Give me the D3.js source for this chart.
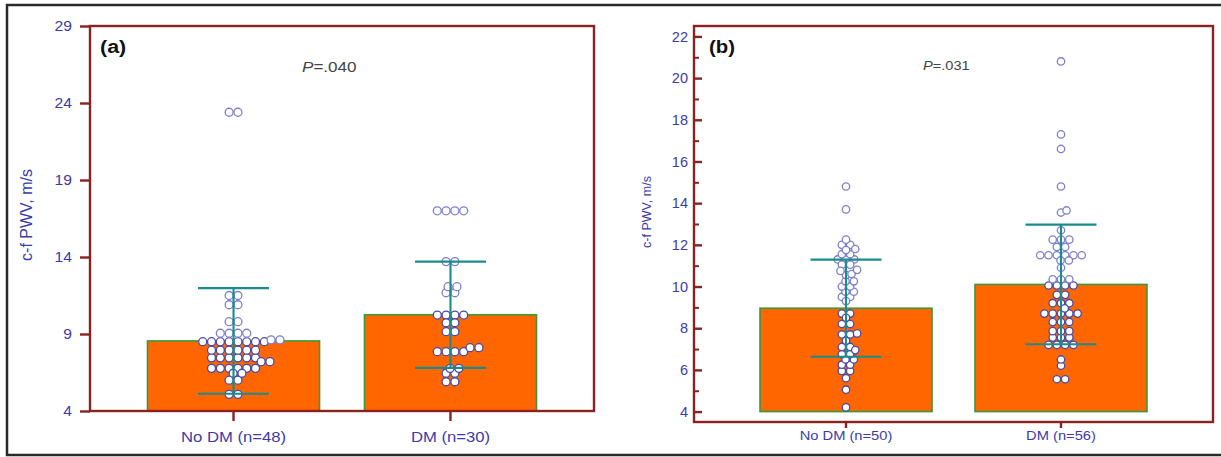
<!DOCTYPE html>
<html><head><meta charset="utf-8">
<script src="https://cdn.jsdelivr.net/npm/d3@7"></script>
<style>body{margin:0;background:#fff}svg{display:block;font-family:"Liberation Sans",Arial,sans-serif}</style>
</head><body><svg id="c" width="1221" height="457"></svg>
<script>
// ---------- Panel (a) ----------
const categoriesA = ["No DM (n=48)", "DM (n=30)"];
const meansA = [8.55, 10.25];
const sdsA = [3.43, 3.45];
const noDmA = [23.4, 23.4, 11.5, 11.5, 10.9, 10.9, 9.8, 9.8, 9.05, 9.05, 9.05, 9.05,
  8.62, 8.62, 8.5, 8.5, 8.5, 8.5, 8.5, 8.5, 8.5, 8.5,
  7.95, 7.95, 7.95, 7.95, 7.95, 7.95, 7.45, 7.45, 7.45, 7.45, 7.45, 7.45,
  7.2, 7.2, 6.77, 6.77, 6.77, 6.77, 6.77, 6.77, 6.45, 6.45, 6.0, 6.0, 5.08, 5.08];
const dmA = [17.0, 17.0, 17.0, 17.0, 13.7, 13.7, 12.07, 12.07, 11.68, 11.68,
  10.23, 10.23, 10.23, 10.23, 9.73, 9.73, 9.15, 9.15, 8.11, 8.11,
  7.85, 7.85, 7.85, 7.85, 6.77, 6.77, 6.45, 6.45, 5.9, 5.9];
const yTicksA = [4, 9, 14, 19, 24, 29];
const panelLabelA = "(a)";
const pValueA = "=.040";

// ---------- Panel (b) ----------
const categoriesB = ["No DM (n=50)", "DM (n=56)"];
const meansB = [8.96, 10.1];
const sdsB = [2.33, 2.87];
const noDmB = [14.8, 13.7, 12.25, 12.0, 12.0, 11.8, 11.75, 11.55, 11.55,
  11.3, 11.3, 11.3, 11.05, 11.05, 10.8, 10.75, 10.6, 10.55,
  10.25, 10.25, 10.0, 10.0, 9.75, 9.75, 9.5, 9.5, 9.3,
  8.7, 8.7, 8.5, 8.2, 8.2, 7.75, 7.7, 7.7, 7.4, 7.1, 7.1, 6.95,
  6.75, 6.75, 6.5, 6.5, 6.25, 6.25, 5.95, 5.95, 5.6, 5.05, 4.2];
const dmB = [20.8, 17.3, 16.6, 14.8, 13.55, 13.65, 12.7, 12.25, 12.25, 12.25,
  11.9, 11.9, 11.5, 11.5, 11.5, 11.5, 11.5, 11.5, 11.25, 11.25, 10.9,
  10.35, 10.35, 10.35, 10.05, 10.05, 10.05, 10.05, 9.6, 9.6, 9.2, 9.2, 9.2, 8.95,
  8.7, 8.7, 8.7, 8.7, 8.7, 8.3, 8.3, 8.3, 7.86, 7.86, 7.86, 7.55, 7.55, 7.55,
  7.2, 7.2, 7.2, 7.2, 6.5, 6.2, 5.55, 5.55];
const yTicksB = [4, 6, 8, 10, 12, 14, 16, 18, 20, 22];
const yMinorB = [5, 7, 9, 11, 13, 15, 17, 19, 21];
const panelLabelB = "(b)";
const pValueB = "=.031";

const yTitle = "c-f PWV, m/s";

const AXIS = "#8a2222", BLUE = "#3c3ca8", ORANGE = "#ff6600", GREEN = "#3a9a3a", TEAL = "#1a8c8c";

const svg = d3.select("#c");
svg.append("rect").attr("x", 7).attr("y", 5).attr("width", 1220).attr("height", 450)
  .attr("fill", "none").attr("stroke", "#2a2a2a").attr("stroke-width", 2.5);

// horizontal stretch of text (the source picture is widened)
function stretch(sel, f) {
  sel.each(function () {
    const w = this.getComputedTextLength();
    d3.select(this).attr("textLength", w * f).attr("lengthAdjust", "spacingAndGlyphs");
  });
}

function swarm(values, y, r, spacing, minDist) {
  const rows = d3.groups(values, v => v).map(([v, a]) => ({ v, n: a.length }));
  rows.sort((a, b) => b.n - a.n || a.v - b.v);
  const placed = [];
  for (const row of rows) {
    const cy = y(row.v);
    let best = null;
    for (let k = 0; k < 200 && !best; k++) {
      const cands = k === 0 ? [0] : [k * r / 2, -k * r / 2];
      for (const c of cands) {
        const xs = d3.range(row.n).map(i => c + (i - (row.n - 1) / 2) * spacing);
        if (xs.every(xx => placed.every(p => Math.hypot(p.x - xx, p.y - cy) >= minDist))) { best = xs; break; }
      }
    }
    best.forEach(xx => placed.push({ x: xx, y: cy, v: row.v }));
  }
  return placed;
}

function drawPanel(cfg) {
  const g = svg.append("g");
  const x = d3.scaleBand().domain(cfg.categories).range([cfg.x0, cfg.x1])
    .paddingInner(cfg.pi).paddingOuter(cfg.po);
  const y = d3.scaleLinear().domain(cfg.domain).range([cfg.y1, cfg.y0]);
  const cx = d => x(d) + x.bandwidth() / 2;

  // bars
  g.selectAll("rect.bar").data(cfg.categories).join("rect").attr("class", "bar")
    .attr("x", d => x(d)).attr("width", x.bandwidth())
    .attr("y", (d, i) => y(cfg.means[i]))
    .attr("height", (d, i) => y(cfg.barBase) - y(cfg.means[i]))
    .attr("fill", ORANGE).attr("stroke", GREEN).attr("stroke-width", 1.6);

  // dots
  cfg.categories.forEach((cat, i) => {
    const pts = swarm(cfg.points[i], y, cfg.r, cfg.spacing, cfg.minDist);
    g.append("g").selectAll("circle").data(pts).join("circle")
      .attr("cx", d => cx(cat) + d.x).attr("cy", d => d.y).attr("r", cfg.r)
      .attr("fill", "#fff")
      .attr("stroke", d => d.v > cfg.means[i] ? "#7f7fcc" : "#4a4aa2")
      .attr("stroke-width", 1.3);
  });

  // error bars
  const eb = g.append("g").attr("stroke", TEAL).attr("stroke-width", 2.1);
  cfg.categories.forEach((cat, i) => {
    const hi = y(cfg.means[i] + cfg.sds[i]), lo = y(cfg.means[i] - cfg.sds[i]);
    eb.append("line").attr("x1", cx(cat)).attr("x2", cx(cat)).attr("y1", hi).attr("y2", lo);
    [hi, lo].forEach(yy => eb.append("line").attr("x1", cx(cat) - cfg.cap).attr("x2", cx(cat) + cfg.cap)
      .attr("y1", yy).attr("y2", yy));
  });

  // frame
  g.append("rect").attr("x", cfg.x0).attr("y", cfg.y0).attr("width", cfg.x1 - cfg.x0)
    .attr("height", cfg.y1 - cfg.y0).attr("fill", "none").attr("stroke", AXIS).attr("stroke-width", 2.4);

  // y axis
  const ya = g.append("g").attr("transform", `translate(${cfg.x0},0)`)
    .call(d3.axisLeft(y).tickValues(cfg.yTicks).tickSize(cfg.yTickSize).tickPadding(cfg.yPad).tickFormat(d3.format("d")));
  ya.select(".domain").remove();
  ya.selectAll("line").attr("stroke", AXIS).attr("stroke-width", 2.4);
  ya.selectAll("text").attr("fill", BLUE).attr("font-size", cfg.tickFont).attr("font-family", "Liberation Sans, Arial, sans-serif")
    .call(stretch, cfg.tickStretch);
  if (cfg.yMinor) {
    const ym = g.append("g").attr("transform", `translate(${cfg.x0},0)`)
      .call(d3.axisLeft(y).tickValues(cfg.yMinor).tickSize(cfg.yMinorSize).tickFormat(""));
    ym.select(".domain").remove();
    ym.selectAll("line").attr("stroke", AXIS).attr("stroke-width", 2);
  }

  // x axis
  const xa = g.append("g").attr("transform", `translate(0,${cfg.y1})`)
    .call(d3.axisBottom(x).tickSize(cfg.xTickSize).tickPadding(cfg.xPad));
  xa.select(".domain").remove();
  xa.selectAll("line").attr("stroke", AXIS).attr("stroke-width", 2.4);
  xa.selectAll("text").attr("fill", BLUE).attr("font-size", cfg.catFont).attr("font-family", "Liberation Sans, Arial, sans-serif")
    .call(stretch, cfg.textStretch);

  // y title
  g.append("text").attr("transform", `translate(${cfg.titleX},${cfg.titleY}) rotate(-90)`)
    .attr("text-anchor", "middle").attr("fill", BLUE).attr("font-size", cfg.titleFont).text(yTitle);

  // panel label
  g.append("text").attr("x", cfg.labelX).attr("y", cfg.labelY).attr("font-weight", "bold")
    .attr("font-size", 18).attr("fill", "#111").text(cfg.label).call(stretch, cfg.textStretch);

  // p value
  const pt = g.append("text").attr("x", cfg.pX).attr("y", cfg.pY).attr("font-size", cfg.pFont).attr("fill", "#444");
  pt.append("tspan").attr("font-style", "italic").text("P");
  pt.append("tspan").text(cfg.pValue);
  pt.call(stretch, cfg.pStretch);
}

drawPanel({
  categories: categoriesA, means: meansA, sds: sdsA, points: [noDmA, dmA],
  x0: 90, x1: 594, y0: 26, y1: 411, domain: [4, 29], barBase: 4, pi: 0.207, po: 0.265,
  yTicks: yTicksA, yTickSize: 10, yPad: 8, tickFont: 14, tickStretch: 1.12,
  xTickSize: 10, xPad: 11, catFont: 14, textStretch: 1.19,
  r: 4.0, spacing: 8.8, minDist: 6.2, cap: 35.5,
  titleX: 32, titleY: 215, titleFont: 16,
  label: panelLabelA, labelX: 100, labelY: 53,
  pValue: pValueA, pX: 302, pY: 72, pFont: 14, pStretch: 1.22
});

drawPanel({
  categories: categoriesB, means: meansB, sds: sdsB, points: [noDmB, dmB],
  x0: 694, x1: 1213, y0: 26, y1: 422, domain: [3.5, 22.5], barBase: 4, pi: 0.2, po: 0.307,
  yTicks: yTicksB, yMinor: yMinorB, yTickSize: -8, yMinorSize: -5, yPad: 6, tickFont: 14.5, tickStretch: 1.0,
  xTickSize: 6, xPad: 3, catFont: 13, textStretch: 1.13,
  r: 3.7, spacing: 8.3, minDist: 5.6, cap: 35.5,
  titleX: 651, titleY: 212, titleFont: 12.5,
  label: panelLabelB, labelX: 709, labelY: 53,
  pValue: pValueB, pX: 923, pY: 70, pFont: 13.5, pStretch: 1.08
});
</script></body></html>
